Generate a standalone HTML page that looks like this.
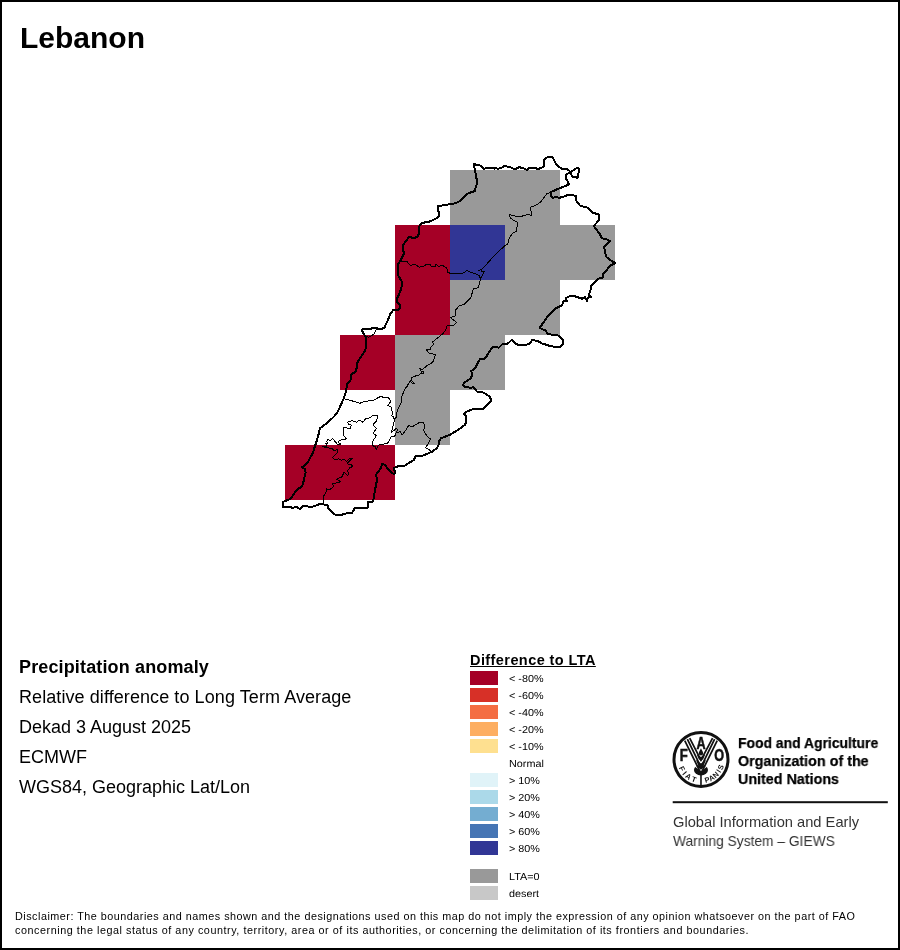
<!DOCTYPE html>
<html><head><meta charset="utf-8">
<style>
html,body{margin:0;padding:0;background:#fff;}
body{width:900px;height:950px;position:relative;overflow:hidden;font-family:"Liberation Sans",sans-serif;color:#000;}
#frame{position:absolute;left:0;top:0;width:896px;height:946px;border:2px solid #000;}
.t{position:absolute;white-space:nowrap;line-height:1;will-change:transform;}
#title{left:19.8px;top:22.7px;font-size:30px;font-weight:bold;}
.info{left:19px;font-size:18px;}
#lt{left:470px;top:653px;font-size:14.5px;font-weight:bold;text-decoration:underline;letter-spacing:0.42px;}
.sw{position:absolute;left:470px;width:28px;height:14px;}
.ll{position:absolute;left:509px;font-size:10.1px;text-rendering:geometricPrecision;transform:scaleX(1.07);transform-origin:0 0;will-change:transform;white-space:nowrap;line-height:1;}
#disc{left:15px;top:909.3px;font-size:10.8px;line-height:14.4px;white-space:nowrap;letter-spacing:0.5px;}
.fao{left:738.4px;font-size:15.1px;font-weight:bold;color:#000;-webkit-text-stroke:0.25px #000;transform-origin:0 0;transform:scaleX(0.9);}
.gi{left:672.6px;font-size:14.6px;color:#333;transform-origin:0 0;transform:scaleX(0.95);}
</style></head><body>
<div id="frame"></div>
<div class="t" id="title">Lebanon</div>
<svg id="map" style="position:absolute;left:0;top:0" width="900" height="950" viewBox="0 0 900 950">
<g shape-rendering="crispEdges">
<rect x="450" y="170" width="110" height="55" fill="#999"/>
<rect x="395" y="225" width="55" height="110" fill="#a50026"/>
<rect x="450" y="225" width="55" height="55" fill="#313695"/>
<rect x="505" y="225" width="110" height="55" fill="#999"/>
<rect x="450" y="280" width="110" height="55" fill="#999"/>
<rect x="340" y="335" width="55" height="55" fill="#a50026"/>
<rect x="395" y="335" width="110" height="55" fill="#999"/>
<rect x="395" y="390" width="55" height="55" fill="#999"/>
<rect x="285" y="445" width="110" height="55" fill="#a50026"/>
</g>
<!--OUTLINE_START--><path d="M473.9,164.4 L474.7,163.9 L476.1,165.3 L478.3,164.7 L481.1,166.1 L483.9,168.7 L487.8,168 L491.7,167.6 L494.4,168.7 L495.6,167.8 L497.8,168.9 L501.7,167.6 L505,165.8 L507.8,166.9 L511.1,167.6 L514.4,169.1 L517.2,168.3 L519.1,166.9 L521.7,168 L525,168.7 L527.2,170.2 L529.4,168 L534.4,168 L538.3,168.9 L541.7,167.6 L543.9,166.1 L543.9,160.6 L545.6,158 L548.3,156.9 L551.7,157.2 L553.1,157.9 L554.9,161.7 L556.7,165 L560.7,167.9 L562.4,169 L567.3,169 L570.9,172.3 L574.9,169 L578,167.7 L579.3,168.6 L579.1,172.3 L577.8,173.7 L578,177.2 L576.7,178.1 L576,177 L572.4,176.8 L570.7,172.9 L569.6,173.3 L566.7,173.7 L565.8,176.8 L566,179 L567.1,179.9 L568.2,183.4 L569.1,184.1 L566.4,185.7 L562.9,187 L556.7,189.4 L551.1,192 L551.1,196.1 L552.8,197.8 L556.1,197.2 L559.4,197.8 L563.3,196.7 L567.8,195 L571.7,195 L575.6,195.8 L576.1,200.6 L578.9,203.9 L580,205.6 L587.8,207.8 L592.8,212.8 L598.9,214.4 L598.9,220 L593.9,226.1 L600,234.4 L601.7,238.3 L606.7,239.4 L610,241.2 L603.9,246.8 L605,251.1 L606.1,256.7 L610,260 L615.3,263 L609.4,266.1 L606.7,270.2 L602.8,274.4 L602.8,277.6 L597.8,278.9 L591.1,285.6 L590.6,290 L588.7,295.6 L591.1,296.9 L588.3,297.2 L586.9,300.9 L585,297.2 L582.2,298.7 L576.7,296.9 L572.8,295.6 L570.6,295.6 L566.1,298 L566.7,300.9 L563.3,301.3 L562.2,305 L559.4,306.7 L555,308.7 L548.3,315.6 L543.9,321.7 L539.6,328 L545.6,330.6 L548.3,334.4 L556.7,334.7 L561.1,337.8 L563.3,340.6 L563.1,343.9 L560,346.7 L554.4,346.9 L548.9,345.6 L541.7,343.3 L537.8,340.9 L532.2,340 L529.4,343.6 L525.6,345 L518.3,345 L514.4,342.8 L511.7,339.8 L507.8,343.6 L502.5,344.1 L498.9,347.6 L492.8,346.9 L490,350.6 L486.7,356.1 L483.9,358.9 L480.2,359.1 L477.8,362.8 L475.6,367.8 L470.9,371.3 L472,372.8 L471.7,376.1 L470.6,378.3 L465.6,381.7 L462.8,384.7 L465.6,387.2 L471.7,387.8 L472.8,386.9 L477.2,391.7 L482.2,392.2 L486.7,394.4 L490,397.2 L491.3,400.9 L483.3,408.9 L473.9,408.9 L465.6,412 L463.9,414.2 L465.9,415.6 L466,422.5 L464.7,425 L457.8,430 L450,434.7 L441.1,438.3 L438.9,441.1 L438.5,445 L436.7,448.3 L432.2,451.7 L427.8,453.5 L422.5,455.7 L415.6,456.1 L413.6,460.3 L408.4,463.3 L403.3,466.5 L399.2,465.7 L394.4,467.8 L393.9,470 L395,470.8 L394.8,473.6 L393.9,474.2 L387.8,469.2 L385,464.8 L382.2,463.9 L380.6,468.3 L376.4,474.2 L376.7,481.7 L375,490 L373.3,500.6 L372.2,501.7 L368,502 L368,507.6 L355,507.8 L352.2,512.8 L345,513.6 L341.1,515 L335.6,515 L331.1,511.1 L328.3,508.3 L328.3,505.6 L323.3,504.4 L318.9,504.4 L312.2,506.7 L308.3,506.7 L307.2,505.8 L303.3,506.1 L300,509.1 L296.7,506.9 L292.2,507.8 L291.1,507.2 L282.8,506.7 L283.3,501.7 L290.6,498.9 L296.7,490 L302.2,486.1 L303.9,480 L305.6,472.8 L305,468.9 L301.7,467.2 L305.6,465 L308.6,460.8 L312.8,453 L315.3,445.2 L318,436.7 L320,428.3 L326.7,423.3 L333.9,416.7 L337.2,412.8 L340,406.7 L343.9,398.3 L346.1,391.1 L347.2,383.9 L350.6,380 L351.1,374.4 L355.6,371.7 L357.2,366.1 L357.2,362.8 L361.1,356.7 L365,350.6 L366.1,346.7 L365.8,337.8 L364.4,335 L362.8,332.2 L361.7,330 L363.3,328.9 L371.1,328.9 L372.2,328 L376.7,327.8 L377.8,328.7 L381.1,328.9 L384.4,328 L385.6,325 L388,320 L390.6,313.3 L393.3,310 L397.8,310 L399.8,308.3 L400,305 L397.2,302.2 L397.2,298.3 L400,292.2 L402.2,285 L401.5,281 L398.3,275.6 L397.6,270 L398.3,263.9 L401.7,258.3 L404.2,253.3 L403.1,250.6 L402.8,245.6 L406.7,240 L409.4,236.7 L412.8,238 L417.2,237.2 L419.4,232.8 L419.4,226.1 L422.4,222.8 L426.7,222.2 L431.1,221.1 L435.6,218.7 L439.1,216.4 L439.4,211.7 L437.8,210.6 L438.3,206.1 L444.4,205 L450,204.3 L455,203.4 L460.6,200.9 L463.9,197.2 L467.8,193.6 L471.7,192 L475,191.1 L475.6,187.8 L476.9,183.9 L476.9,180 L475.8,175.6 L475.3,171.1 L474.4,167.8 Z" fill="none" stroke="#000" stroke-width="2" stroke-linejoin="round" shape-rendering="crispEdges"/>
<path d="M551.1,192 L546.7,193.9 L543.3,198.3 L540.6,202.2 L535.6,205.3 L531.1,206.9 L530.6,210 L531.7,212.2 L531.1,215.3 L527.8,214.4 L522.2,216.1 L516.7,216.4 L512.2,215.3 L509.4,214.4 L510.2,217.8 L513.3,220.2 L517.2,222 L517.6,225.6 L516.4,228.3 L516.1,231.7 L513.3,232.4 L509.4,237.8 L508.5,241 L507.5,244.4 L504.5,246 L497.8,252.2 L491.1,259.2 L486.7,264.1 L482.2,268.6 L480.9,269.9 L478.2,270.5 L480.9,269.9 L481.8,271.2 L484.7,271.4 L483.6,272.6 L482.4,275.2 L480.9,277.7 L480.2,280.3 L479.1,282.6 L479.1,284.3 L478.4,287.9 L474.2,288.3 L473.1,290.1 L472.2,292.8 L471.1,297.2 L467.8,300.6 L464.4,304.2 L458.9,306.1 L455.6,310.2 L455.6,315.6 L450.6,317.8 L456.7,322.4 L453.9,325.3 L447.2,325.6 L445.6,330 L443.3,333.3 L437.8,337.8 L432.8,341.7 L433.3,345 L431.1,346.7 L430.6,349.1 L426.7,349.8 L428.3,352.8 L432.2,353.9 L435.6,354.7 L433.9,358.9 L432.8,362.2 L428.3,365 L426.7,365.8 L424.2,368 L422.7,369.6 L420.9,369 L419.3,368.3 L420.9,369 L421,371 L421.5,371.6 L423.7,371.6 L423.7,373.5 L421.6,373.5 L421.5,372.9 L419.1,375.1 L416.4,375.4 L414.7,376.4 L412,377.4 L411.4,379.2 L410.8,380.5 L412,381 L413,382.2 L414.6,383.4 L412.3,383.4 L411.3,382.3 L410.3,381 L409.6,381.8 L408.4,383.6 L407.3,386 L405.3,388.4 L403.3,392.9 L401.8,396.4 L401.3,402.2 L397.6,410 L396.7,412.7 L396.4,417.1 L395.3,418.4 L394.2,418.9 L394.4,420.7 L393.6,422.9 L393.3,425.6 L392.4,426.9 L392.2,429.6 L391.3,430.7 L391.6,432.2 L392,431.6 L393.3,430.9 L394.9,429.6 L396.4,428.4 L397.6,429.6 L397.1,430.9 L396.4,431.8 L396.9,432.4 L398.7,432.2 L399.8,431.3 L400.7,432.2 L401.8,434.4 L402.9,434 L404.9,431.3 L406.7,429.1 L407.6,426.9 L409.1,425.3 L410.7,426.4 L412.9,426.4 L415.6,424.7 L417.8,423.3 L420,422.4 L423.3,422.8 L424.4,425 L423.9,430.6 L427.2,436.7 L430.6,438.9 L428.3,443.3 L425.6,447.8 L430.6,450.6 L432.2,451.5 M400.6,262 L406.7,261.3 L410.6,265.6 L414.4,264.2 L419.4,267.2 L423.3,266.4 L426.7,264.2 L430,264.4 L431.7,266.9 L435,266.9 L436.1,264.2 L438.3,266.4 L442.2,265.3 L446.7,267.8 L447.8,272.2 L450,273.3 L462.7,273.2 L464.9,272.1 L466.9,270.3 L468.9,271.4 L471.6,272.6 L474.7,273.4 L476.9,274.5 L479.1,275.4 L479.8,277.2 L480.5,278.2 M376.7,328.3 L374.4,333.9 L368.9,337.2 L365.8,336.1 M343.9,398.7 L351.1,400.6 L360,403.3 L363.3,401.7 L374.4,400 L377.8,397.8 L381.1,396.3 L383.9,397.8 L388.3,397.2 L390,400 L390.6,401.7 L387.8,405.6 L391.1,407.2 L391.6,410 L392.7,411.8 L392.4,414.4 L391.3,415.8 L393.3,416.7 L394,418.7 L394.4,420.7 M396.4,431.8 L395.6,434.9 L394.2,436.2 L391.6,436.4 L390.4,437.6 L389.6,439.8 L388.2,442 L387.6,443.3 L384.2,443.3 L383.8,444.2 L380,444.3 L378.6,445.3 L376.3,449.2 L375.3,446.7 L372.5,445.6 L372.8,441.1 L376.4,435.6 L373.3,433.3 L376.4,428.3 L372.8,425 L376.4,421.1 L378.1,416 L372.2,415.6 L370,417.8 L365.6,418.9 L362.8,422.2 L358.9,420 L356.7,422.2 L352.2,420.6 L347.8,422.2 L348.3,424.4 L351.4,425 L350.6,427.7 L349.7,428.6 L347.2,428.6 L346.8,427.3 L343.5,427.3 L343.5,435.4 L345.2,437.4 L346.6,438.3 L344.8,439.4 L342.1,439.4 L339.2,440.6 L338.3,442.1 L339.4,443.2 L340.6,443.5 L340.6,444.3 L337.4,444.3 L334.6,441 L332.6,438.1 L331.4,439.4 L330.3,440.6 L329.2,440.6 L328.3,439.2 L326.6,441.4 L327.7,442.6 L327.6,443.3 L325.2,443.4 L326.8,443.7 L326.8,446.8 L322.1,446.4 L324.1,447 L325.2,447.3 L328.3,447.3 L329.7,448.3 L332.1,448.6 L333.7,450.4 L335.9,450.4 L336.3,449.3 L337.6,449.5 L337.6,452.1 L334.6,455.3 L332.6,457.6 L334.3,459.3 L337.7,459.3 L338.6,458.5 L339.4,459.3 L341.4,460.4 L342.6,459.4 L344.6,459.8 L346.6,461.6 L349.4,458.5 L352.8,458.5 L351.2,459.4 L347.4,463.3 L348.8,464.4 L351.2,464.7 L352.6,465.8 L351.7,467.1 L349.7,467.3 L348.8,469.3 L347.4,470.4 L347.7,472 L348.6,472.7 L348.3,474.7 L347.4,475.6 L344.3,472.2 L343.2,473.6 L342.6,476.4 L340.6,477.6 L338.3,478.4 L336.7,479.4 L340.6,481.7 L332.8,483.9 L333.3,486.7 L330,489.4 L326.7,488.9 L326.7,491.1 L323.9,495.6 L323.9,503.3" fill="none" stroke="#000" stroke-width="1" stroke-linejoin="round" shape-rendering="crispEdges"/>
<!--OUTLINE_END-->
</svg>
<div class="t info" style="top:658px;font-weight:bold;letter-spacing:0.14px">Precipitation anomaly</div>
<div class="t info" style="top:688px;letter-spacing:0.08px">Relative difference to Long Term Average</div>
<div class="t info" style="top:718px">Dekad 3 August 2025</div>
<div class="t info" style="top:748px">ECMWF</div>
<div class="t info" style="top:778px">WGS84, Geographic Lat/Lon</div>
<div class="t" id="lt">Difference to LTA</div>
<!--LEGEND_START--><div class="sw" style="top:671px;background:#a50026"></div><div class="ll" style="top:674.5px">&lt; -80%</div>
<div class="sw" style="top:688px;background:#d73027"></div><div class="ll" style="top:691.5px">&lt; -60%</div>
<div class="sw" style="top:705px;background:#f46d43"></div><div class="ll" style="top:708.5px">&lt; -40%</div>
<div class="sw" style="top:722px;background:#fdae61"></div><div class="ll" style="top:725.5px">&lt; -20%</div>
<div class="sw" style="top:739px;background:#fee090"></div><div class="ll" style="top:742.5px">&lt; -10%</div>
<div class="ll" style="top:759.5px">Normal</div>
<div class="sw" style="top:773px;background:#e0f3f8"></div><div class="ll" style="top:776.5px">&gt; 10%</div>
<div class="sw" style="top:790px;background:#abd9e9"></div><div class="ll" style="top:793.5px">&gt; 20%</div>
<div class="sw" style="top:807px;background:#74add1"></div><div class="ll" style="top:810.5px">&gt; 40%</div>
<div class="sw" style="top:824px;background:#4575b4"></div><div class="ll" style="top:827.5px">&gt; 60%</div>
<div class="sw" style="top:841px;background:#313695"></div><div class="ll" style="top:844.5px">&gt; 80%</div>
<div class="sw" style="top:869px;background:#999"></div><div class="ll" style="top:872.5px">LTA=0</div>
<div class="sw" style="top:886px;background:#c8c8c8"></div><div class="ll" style="top:889.5px">desert</div>
<!--LEGEND_END-->
<!--LOGO_START--><svg style="position:absolute;left:0;top:0" width="900" height="950" viewBox="0 0 900 950">
<circle cx="701.0" cy="759.4" r="27" fill="#fff" stroke="#111" stroke-width="3"/>
<g transform="translate(681,733) scale(0.0579)" fill="#111" stroke="none">
<ellipse cx="345" cy="640" rx="122" ry="92"/>
<path d="M232,560 L345,648 L458,560" fill="none" stroke="#fff" stroke-width="20"/>
<g fill="none" stroke="#111" stroke-width="30" stroke-linejoin="miter"><path d="M65,130 L345,700 L625,130"/><path d="M110,105 L345,590 L580,105"/><path d="M150,90 L345,470 L545,90"/></g>
<path d="M345,262 C362,300 383,320 383,350 A38,38 0 0 1 307,350 C307,320 328,300 345,262Z"/>
<path d="M272,372 L345,415 L418,372 L385,450 L345,482 L305,450Z"/>
<path d="M256,462 L345,527 L434,462 L392,560 L345,600 L298,560Z"/>
<rect x="331" y="700" width="28" height="200"/>
</g>
<g font-family="Liberation Sans, sans-serif" font-weight="bold" fill="#111">
<text id="lF" stroke="#111" stroke-width="0.55" transform="translate(679.7,760.6) scale(0.84,1)" font-size="15.6">F</text>
<text id="lA" stroke="#111" stroke-width="0.55" transform="translate(696.6,748.6) scale(0.78,1)" font-size="16.2">A</text>
<text id="lO" stroke="#111" stroke-width="0.55" transform="translate(714.2,760.8) scale(0.78,1)" font-size="16.2">O</text>
<text transform="translate(681.86,768.74) rotate(64.0)" font-size="7.4" text-anchor="middle" dy="2.5">F</text><text transform="translate(684.68,773.09) rotate(50.0)" font-size="7.4" text-anchor="middle" dy="2.5">I</text><text transform="translate(688.48,776.63) rotate(36.0)" font-size="7.4" text-anchor="middle" dy="2.5">A</text><text transform="translate(693.85,779.47) rotate(19.6)" font-size="7.4" text-anchor="middle" dy="2.5">T</text><text transform="translate(707.23,779.77) rotate(-17.0)" font-size="7.4" text-anchor="middle" dy="2.5">P</text><text transform="translate(711.49,777.94) rotate(-29.5)" font-size="7.4" text-anchor="middle" dy="2.5">A</text><text transform="translate(715.69,774.82) rotate(-43.6)" font-size="7.4" text-anchor="middle" dy="2.5">N</text><text transform="translate(718.80,771.09) rotate(-56.7)" font-size="7.4" text-anchor="middle" dy="2.5">I</text><text transform="translate(720.83,767.17) rotate(-68.6)" font-size="7.4" text-anchor="middle" dy="2.5">S</text>
</g>
<rect x="672.7" y="801.2" width="215.1" height="2" fill="#111"/>
</svg>
<div class="t fao" id="f1" style="top:735px;transform:scaleX(0.922)">Food and Agriculture</div>
<div class="t fao" id="f2" style="top:753px;transform:scaleX(0.95)">Organization of the</div>
<div class="t fao" id="f3" style="top:771px;transform:scaleX(0.948)">United Nations</div>
<div class="t gi" id="g1" style="top:815px;transform:scaleX(1.006)">Global Information and Early</div>
<div class="t gi" id="g2" style="top:833.7px;transform:scaleX(0.944)">Warning System – GIEWS</div>
<!--LOGO_END-->
<div class="t" id="disc">Disclaimer: The boundaries and names shown and the designations used on this map do not imply the expression of any opinion whatsoever on the part of FAO<br><span style="letter-spacing:0.545px">concerning the legal status of any country, territory, area or of its authorities, or concerning the delimitation of its frontiers and boundaries.</span></div>
</body></html>
